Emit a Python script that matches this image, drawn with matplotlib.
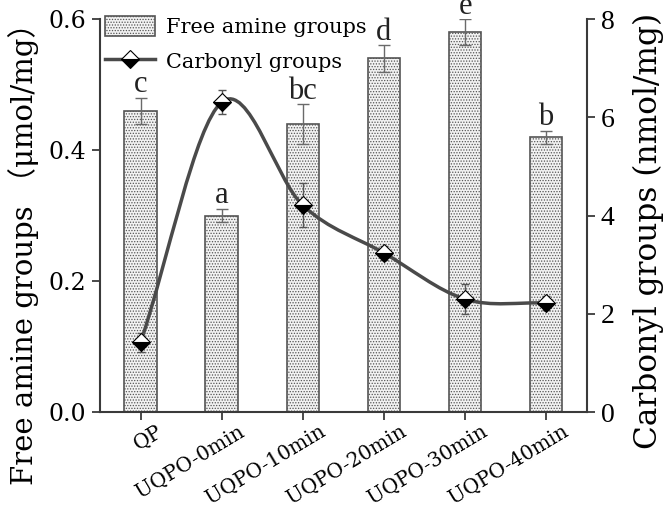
import numpy as np
import matplotlib
matplotlib.use("Agg")
import matplotlib.pyplot as plt
import matplotlib.transforms as mtransforms
from matplotlib.path import Path
from matplotlib.patches import PathPatch

categories = ["QP", "UQPO-0min", "UQPO-10min", "UQPO-20min", "UQPO-30min", "UQPO-40min"]
amine = [0.46, 0.30, 0.44, 0.54, 0.58, 0.42]
amine_err = [0.02, 0.01, 0.03, 0.02, 0.02, 0.01]
letters = ["c", "a", "bc", "d", "e", "b"]
carbonyl = [1.42, 6.31, 4.21, 3.24, 2.30, 2.22]
carbonyl_err = [0.2, 0.25, 0.45, 0.15, 0.3, 0.15]

FAM = ["DejaVu Serif", "Noto Sans CJK SC", "DejaVu Sans"]
plt.rcParams["font.family"] = FAM
plt.rcParams["hatch.color"] = "#c8c8c8"
plt.rcParams["hatch.linewidth"] = 0.6

fig = plt.figure(figsize=(6.69, 5.05), dpi=100)
ax = fig.add_axes([0.1495, 0.184, 0.7275, 0.778])
ax2 = ax.twinx()

x = np.arange(len(categories))
dark = "#3a3a3a"

bars = ax.bar(x, amine, width=0.4, facecolor="#f2f2f2", edgecolor="#555555",
              linewidth=1.2, hatch="......", label="Free amine groups", zorder=2)
ax.errorbar(x, amine, yerr=amine_err, fmt="none", ecolor="#6a6a6a",
            elinewidth=1.0, capsize=4, capthick=1.0, zorder=3)
for xi, v, e, t in zip(x, amine, amine_err, letters):
    ax.annotate(t, (xi, v + e), xytext=(0, -1), textcoords="offset points",
                ha="center", va="bottom", fontsize=22, color="#222222",
                family=["Liberation Serif"])

# smooth curve through the carbonyl points: cubic Bezier segments (Catmull-Rom tangents)
cy = np.asarray(carbonyl, float)
tang = np.empty_like(cy)
tang[1:-1] = (cy[2:] - cy[:-2]) / 2.0
tang[0] = cy[1] - cy[0]
tang[-1] = cy[-1] - cy[-2]
verts = [(x[0], cy[0])]
codes = [Path.MOVETO]
for i in range(len(cy) - 1):
    verts += [(x[i] + 1 / 3, cy[i] + tang[i] / 3),
              (x[i + 1] - 1 / 3, cy[i + 1] - tang[i + 1] / 3),
              (x[i + 1], cy[i + 1])]
    codes += [Path.CURVE4] * 3
ax2.add_patch(PathPatch(Path(verts, codes), facecolor="none", edgecolor="#4a4a4a",
                        lw=2.5, zorder=4))
ax2.errorbar(x, carbonyl, yerr=carbonyl_err, fmt="none", ecolor="#555555",
             elinewidth=1.0, capsize=3, capthick=1.0, zorder=5)
ax2.plot(x, carbonyl, linestyle="none", marker="D", markersize=9,
         markerfacecolor="black", markerfacecoloralt="white", fillstyle="bottom",
         markeredgecolor="black", markeredgewidth=0.8, zorder=6)
line_handle = plt.Line2D([], [], color="#4a4a4a", lw=2.5, marker="D", markersize=9,
                         markerfacecolor="black", markerfacecoloralt="white",
                         fillstyle="bottom", markeredgecolor="black",
                         markeredgewidth=0.8)

ax.set_xlim(-0.5, 5.5)
ax.set_ylim(0, 0.6)
ax2.set_ylim(0, 8)
ax.set_yticks([0.0, 0.2, 0.4, 0.6])
ax.set_yticklabels(["0.0", "0.2", "0.4", "0.6"])
ax2.set_yticks([0, 2, 4, 6, 8])
ax2.set_yticklabels(["0", "2", "4", "6", "8"], family=["Liberation Serif"])
ax.set_xticks(x)

for a in (ax, ax2):
    a.spines["top"].set_visible(False)
    for s in a.spines.values():
        s.set_linewidth(1.5)
        s.set_color(dark)
ax.spines["right"].set_visible(False)
ax2.spines["left"].set_visible(False)
ax2.spines["bottom"].set_visible(False)

ax.tick_params(axis="y", direction="out", length=6, width=1.3, color=dark,
               labelsize=17, pad=4)
ax.tick_params(axis="x", direction="out", length=6, width=1.3, color=dark, pad=4)
ax2.tick_params(axis="y", direction="out", length=6, width=1.3, color=dark,
                labelsize=20, pad=4)

ax.set_xticklabels(categories, rotation=31, ha="right", rotation_mode="anchor",
                   fontsize=14.5)
shift = mtransforms.ScaledTranslation(16 / 100, 4 / 100, fig.dpi_scale_trans)
for tick in ax.xaxis.get_major_ticks():
    tick.label1.set_transform(tick.label1.get_transform() + shift)

ax.set_ylabel("Free amine groups （μmol/mg）", fontsize=21)
ax.yaxis.set_label_coords(-0.125, 0.42)
ax2.set_ylabel("Carbonyl groups (nmol/mg)", fontsize=22.5)
ax2.yaxis.set_label_coords(1.095, 0.46)

ax.legend([bars, line_handle], ["Free amine groups", "Carbonyl groups"],
          loc="upper left", bbox_to_anchor=(-0.015, 1.04), frameon=False,
          fontsize=15, handlelength=2.4, handleheight=1.1, labelspacing=0.65,
          handletextpad=0.5, borderaxespad=0.2)
ax2.set_zorder(ax.get_zorder() + 1)
ax2.patch.set_visible(False)

fig.savefig("out.png", dpi=100)
